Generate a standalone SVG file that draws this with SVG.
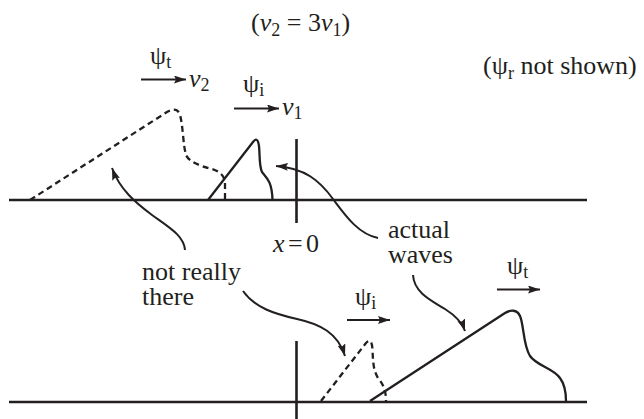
<svg xmlns="http://www.w3.org/2000/svg" width="644" height="419" viewBox="0 0 644 419">
  <style>
    text { font-family: "Liberation Serif", "Times New Roman", serif; font-size: 26px; fill: #231f20; }
    .it { font-style: italic; }
    .sub { font-size: 18px; }
    .axis { stroke: #231f20; stroke-width: 2.6; fill: none; }
    .wave { stroke: #231f20; stroke-width: 2.3; fill: none; stroke-linejoin: round; }
    .dash { stroke-dasharray: 6 4; }
    .arr { stroke: #231f20; stroke-width: 2.2; fill: none; marker-end: url(#head); }
    .carr { stroke: #231f20; stroke-width: 2; fill: none; marker-end: url(#head); }
  </style>
  <defs>
    <marker id="head" markerUnits="userSpaceOnUse" markerWidth="14" markerHeight="10" refX="12" refY="4" orient="auto">
      <path d="M0,0 L12,4 L0,8 L2,4 z" fill="#231f20"/>
    </marker>
  </defs>
  <rect width="644" height="419" fill="#ffffff"/>

  <g id="top-axis">
    <line class="axis" x1="9" y1="200" x2="587" y2="200"/>
    <line class="axis" x1="296.5" y1="139" x2="296.5" y2="223"/>
  </g>
  <g id="bottom-axis">
    <line class="axis" x1="9" y1="402" x2="587" y2="402"/>
    <line class="axis" x1="296.5" y1="341" x2="296.5" y2="419"/>
  </g>

  <g id="top-transmitted-dashed">
    <path class="wave dash" d="M30,200 L167,112 C172,109 178,108 180,115 C183,125 183,145 186,155 C189,162 200,166 212,169 C222,172 225,178 225,184 L225,200"/>
  </g>
  <g id="top-incident">
    <path class="wave" d="M208,200 L253,142 C256,138 258,139 259,146 C260,155 259,166 262,172 C267,178 272,182 272.5,200"/>
  </g>
  <g id="bottom-incident-dashed">
    <path class="wave dash" d="M321,401 L366,343 C370,339 372,341 372.5,350 C373,360 373,370 378,378 C384,385 386,392 386,401"/>
  </g>
  <g id="bottom-transmitted">
    <path class="wave" d="M370,401 L505,313 C510,310 517,309 520,316 C524,325 523,345 530,356 C537,366 553,368 560,378 C566,386 566,395 566,401"/>
  </g>

  <g id="label-ratio">
    <text x="251" y="31">(<tspan class="it">v</tspan><tspan class="sub" dy="5">2</tspan><tspan dy="-5"> = 3</tspan><tspan class="it">v</tspan><tspan class="sub" dy="5">1</tspan><tspan dy="-5">)</tspan></text>
  </g>
  <g id="label-top-psi-t">
    <text x="150" y="64">ψ<tspan class="sub" dy="4">t</tspan></text>
    <text x="189" y="87" class="it">v<tspan class="sub" style="font-style:normal" dy="4">2</tspan></text>
  </g>
  <g id="label-top-psi-i">
    <text x="243" y="92">ψ<tspan class="sub" dy="4">i</tspan></text>
    <text x="282" y="115" class="it">v<tspan class="sub" style="font-style:normal" dy="4">1</tspan></text>
  </g>
  <g id="label-psi-r">
    <text x="483" y="74">(ψ<tspan class="sub" dy="5">r</tspan><tspan dy="-5"> not shown)</tspan></text>
  </g>
  <g id="label-x0">
    <text y="252"><tspan x="273" class="it">x</tspan><tspan x="288">=</tspan><tspan x="306">0</tspan></text>
  </g>
  <g id="label-actual-waves">
    <text x="388" y="238">actual</text>
    <text x="388" y="263">waves</text>
  </g>
  <g id="label-not-really-there">
    <text x="142" y="280">not really</text>
    <text x="142" y="305">there</text>
  </g>
  <g id="label-bottom-psi-i">
    <text x="355" y="305">ψ<tspan class="sub" dy="4">i</tspan></text>
  </g>
  <g id="label-bottom-psi-t">
    <text x="507" y="274">ψ<tspan class="sub" dy="4">t</tspan></text>
  </g>

  <g id="connectors">
    <line class="arr" x1="141" y1="79.5" x2="186" y2="79.5"/>
    <line class="arr" x1="234" y1="108.5" x2="279" y2="108.5"/>
    <line class="arr" x1="347" y1="320" x2="390" y2="320"/>
    <line class="arr" x1="497" y1="289.5" x2="540" y2="289.5"/>
    <path class="carr" d="M185,250 C184,236 170,228 152,215 C136,203 120,190 112,168"/>
    <path class="carr" d="M378,238 C358,234 345,215 333,199 C320,181 305,168 276,166"/>
    <path class="carr" d="M243,291 C255,308 275,314 297,319 C320,324 338,333 345,356"/>
    <path class="carr" d="M413,275 C414,292 430,300 445,309 C456,316 462,322 465,331"/>
  </g>
</svg>
